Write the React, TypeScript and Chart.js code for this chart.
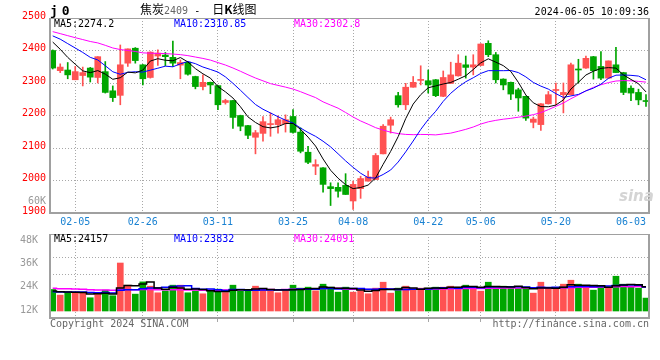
import { useEffect, useRef } from "react";
import { Chart, registerables } from "chart.js";

Chart.register(...registerables);

// ---------- data ----------
const dates = [
  "01-31", "02-01", "02-02", "02-05", "02-06", "02-07", "02-08", "02-19", "02-20", "02-21",
  "02-22", "02-23", "02-26", "02-27", "02-28", "02-29", "03-01", "03-04", "03-05", "03-06",
  "03-07", "03-08", "03-11", "03-12", "03-13", "03-14", "03-15", "03-18", "03-19", "03-20",
  "03-21", "03-22", "03-25", "03-26", "03-27", "03-28", "03-29", "04-01", "04-02", "04-03",
  "04-08", "04-09", "04-10", "04-11", "04-12", "04-15", "04-16", "04-17", "04-18", "04-19",
  "04-22", "04-23", "04-24", "04-25", "04-26", "04-29", "04-30", "05-06", "05-07", "05-08",
  "05-09", "05-10", "05-13", "05-14", "05-15", "05-16", "05-17", "05-20", "05-21", "05-22",
  "05-23", "05-24", "05-27", "05-28", "05-29", "05-30", "05-31", "06-03", "06-04", "06-05",
];
const tickDates = ["02-05", "02-26", "03-11", "03-25", "04-08", "04-22", "05-06", "05-20", "06-03"];

const opens = [
  2400, 2338, 2340, 2310, 2323, 2346, 2317, 2335, 2276, 2262,
  2361, 2407, 2356, 2317, 2383, 2386, 2379, 2355, 2364, 2320,
  2289, 2302, 2292, 2240, 2246, 2200, 2169, 2133, 2145, 2172,
  2172, 2175, 2197, 2149, 2087, 2044, 2039, 1981, 1979, 1985,
  1937, 1975, 1998, 2003, 2082, 2170, 2261, 2233, 2287, 2308,
  2307, 2310, 2259, 2299, 2322, 2356, 2349, 2354, 2422, 2387,
  2312, 2302, 2279, 2259, 2179, 2172, 2236, 2277, 2264, 2264,
  2342, 2346, 2381, 2351, 2315, 2356, 2332, 2284, 2271, 2245,
];
const highs = [
  2402, 2359, 2363, 2351, 2349, 2348, 2381, 2366, 2291, 2417,
  2405, 2409, 2357, 2396, 2402, 2394, 2429, 2371, 2366, 2321,
  2325, 2303, 2293, 2250, 2247, 2201, 2170, 2154, 2197, 2208,
  2199, 2202, 2218, 2162, 2105, 2064, 2040, 1993, 1993, 2021,
  1998, 2013, 2029, 2083, 2172, 2195, 2271, 2299, 2320, 2353,
  2340, 2311, 2337, 2364, 2387, 2383, 2387, 2421, 2430, 2394,
  2313, 2303, 2284, 2260, 2195, 2237, 2274, 2300, 2300, 2361,
  2373, 2383, 2382, 2397, 2368, 2410, 2333, 2291, 2281, 2264,
];
const lows = [
  2343, 2332, 2313, 2310, 2291, 2303, 2300, 2269, 2243, 2233,
  2351, 2361, 2294, 2315, 2354, 2353, 2351, 2313, 2324, 2282,
  2279, 2267, 2218, 2235, 2160, 2153, 2129, 2082, 2121, 2136,
  2146, 2149, 2146, 2085, 2052, 2018, 1964, 1923, 1949, 1957,
  1911, 1945, 1998, 2003, 2082, 2146, 2226, 2218, 2287, 2294,
  2269, 2258, 2258, 2298, 2321, 2315, 2325, 2353, 2381, 2300,
  2279, 2249, 2213, 2185, 2162, 2154, 2235, 2233, 2208, 2263,
  2300, 2345, 2312, 2310, 2314, 2332, 2264, 2246, 2233, 2228,
];
const closes = [
  2346, 2349, 2325, 2335, 2332, 2318, 2381, 2271, 2255, 2356,
  2405, 2369, 2313, 2395, 2392, 2381, 2361, 2363, 2327, 2289,
  2302, 2294, 2233, 2246, 2194, 2167, 2139, 2147, 2181, 2175,
  2187, 2187, 2148, 2090, 2056, 2049, 1988, 1975, 1967, 1957,
  1988, 2006, 2011, 2077, 2167, 2187, 2233, 2287, 2302, 2311,
  2294, 2261, 2317, 2325, 2361, 2348, 2356, 2420, 2387, 2310,
  2294, 2266, 2254, 2192, 2189, 2236, 2264, 2280, 2271, 2356,
  2340, 2376, 2338, 2315, 2368, 2332, 2271, 2269, 2248, 2243,
];
const volumes = [
  23070, 20170, 21530, 21530, 21530, 18810, 21020, 22730, 19830, 36680,
  25280, 20680, 26980, 24770, 21360, 22380, 25280, 25280, 21360, 22380,
  20850, 22380, 23240, 21530, 25280, 22380, 22380, 24770, 23240, 22380,
  21360, 22380, 25280, 23750, 24260, 22380, 25790, 24260, 21700, 24260,
  21700, 22380, 20850, 23750, 26810, 21190, 23750, 24770, 22730, 23750,
  23750, 24260, 24260, 24770, 24260, 25280, 24260, 22210, 26810, 24260,
  24770, 23750, 23750, 23750, 21190, 26810, 23750, 23240, 25790, 27830,
  25790, 23750, 22730, 24770, 23750, 29880, 25790, 24260, 23750, 18640,
];
// sessions before the visible window (only feed the moving averages)
const earlierCloses = [
  2530, 2515, 2520, 2505, 2498, 2510, 2495, 2500, 2502, 2492,
  2460, 2440, 2425, 2410, 2400, 2405, 2415, 2420, 2418, 2430,
  2450, 2462, 2470, 2468, 2470, 2460, 2450, 2440, 2434,
];
const earlierVolumes = [
  25000, 24200, 26100, 23800, 24900, 25300, 23600, 24400, 25800, 24100,
  23900, 24700, 25200, 24000, 23500, 24600, 25100, 24300, 23800, 24200,
  21500, 21800, 21200, 22000, 21500, 22100, 21800, 22300, 21850,
];
const priceTicks = [1900, 2000, 2100, 2200, 2300, 2400, 2500];
const volumeTicks = [12000, 24000, 36000, 48000];
const priceLegend = [
  { text: "MA5:2274.2", color: "#000000" },
  { text: "MA10:2310.85", color: "#0000ff" },
  { text: "MA30:2302.8", color: "#ff00ff" },
];
const volumeLegend = [
  { text: "MA5:24157", color: "#000000" },
  { text: "MA10:23832", color: "#0000ff" },
  { text: "MA30:24091", color: "#ff00ff" },
];

// ---------- helpers ----------
const MONO = "'DejaVu Sans Mono', 'Liberation Mono', monospace";
const RED = "#ff5252";
const GREEN = "#00a600";
const GRID = "#a8a8a8";

function movingAverage(history: number[], series: number[], n: number) {
  const all = history.concat(series);
  return series.map((_, i) => {
    const end = history.length + i;
    let sum = 0;
    for (let k = end - n + 1; k <= end; k++) sum += all[k];
    return sum / n;
  });
}

const isUp = (i: number) => closes[i] >= opens[i];
const candleColor = (ctx: any) => (isUp(ctx.dataIndex) ? RED : GREEN);
const tickIndices = tickDates.map((d) => dates.indexOf(d));

const framePlugin = {
  id: "panelFrame",
  afterDatasetsDraw(chart: any) {
    const { ctx, chartArea: a } = chart;
    ctx.save();
    ctx.strokeStyle = "#a0a0a0";
    ctx.lineWidth = 1;
    ctx.beginPath();
    ctx.moveTo(a.left, a.top + 0.5);
    ctx.lineTo(a.right, a.top + 0.5);
    ctx.stroke();
    ctx.lineWidth = 2;
    ctx.beginPath();
    ctx.moveTo(a.left, a.top);
    ctx.lineTo(a.left, a.bottom);
    ctx.lineTo(a.right, a.bottom);
    ctx.lineTo(a.right, a.top);
    ctx.stroke();
    ctx.restore();
  },
};

function xAxis(withLabels: boolean) {
  return {
    type: "linear",
    min: -0.36,
    max: dates.length - 1 + 0.4,
    offset: false,
    afterBuildTicks: (axis: any) => {
      axis.ticks = tickIndices.map((value) => ({ value }));
    },
    afterFit: (axis: any) => {
      axis.height = withLabels ? 19 : 22;
    },
    grid: {
      offset: false,
      color: (ctx: any) => (ctx.index === tickIndices.length - 1 ? "rgba(0,0,0,0)" : GRID),
      lineWidth: 1,
      drawTicks: !withLabels,
      tickLength: 4,
    },
    border: { display: false, dash: [1, 2] },
    ticks: {
      display: withLabels,
      autoSkip: false,
      maxRotation: 0,
      minRotation: 0,
      padding: 3,
      color: "#1a82d2",
      font: { family: MONO, size: 10 },
      callback: (v: number) => dates[v] ?? "",
    },
  };
}

const lineDs = (label: string, values: number[], color: string, width: number, stepped: any) => ({
  type: "line",
  label,
  data: values.map((y, x) => ({ x, y })),
  borderColor: color,
  borderWidth: width,
  pointRadius: 0,
  tension: 0,
  stepped,
  order: 0,
});

function buildPriceConfig(): any {
  return {
    type: "bar",
    data: {
      datasets: [
        lineDs("MA5", movingAverage(earlierCloses, closes, 5), "#000000", 1, false),
        lineDs("MA10", movingAverage(earlierCloses, closes, 10), "#0000ff", 1, false),
        lineDs("MA30", movingAverage(earlierCloses, closes, 30), "#ff00ff", 1, false),
        {
          type: "bar",
          label: "range",
          data: lows.map((l, x) => ({ x, y: [l, highs[x]] })),
          backgroundColor: candleColor,
          barThickness: 1,
          grouped: false,
          order: 2,
        },
        {
          type: "bar",
          label: "body",
          data: opens.map((o, x) => ({ x, y: [o, closes[x]] })),
          backgroundColor: candleColor,
          barThickness: 6,
          minBarLength: 1,
          grouped: false,
          order: 1,
        },
      ],
    },
    options: {
      responsive: false,
      animation: false,
      devicePixelRatio: 1,
      events: [],
      layout: { padding: { top: 18, right: 11, left: 0, bottom: 0 } },
      plugins: { legend: { display: false }, tooltip: { enabled: false } },
      scales: {
        x: xAxis(true),
        y: {
          type: "linear",
          min: priceTicks[0],
          max: priceTicks[priceTicks.length - 1],
          afterBuildTicks: (axis: any) => {
            axis.ticks = priceTicks.map((value) => ({ value }));
          },
          afterFit: (axis: any) => {
            axis.width = 50;
          },
          ticks: {
            color: "#ff0000",
            padding: 4,
            labelOffset: -2,
            font: { family: MONO, size: 10 },
            callback: (v: number) => String(v),
          },
          grid: { color: GRID, drawTicks: false },
          border: { display: false, dash: [1, 2] },
        },
      },
    },
    plugins: [framePlugin],
  };
}

function buildVolumeConfig(): any {
  return {
    type: "bar",
    data: {
      datasets: [
        lineDs("MA5", movingAverage(earlierVolumes, volumes, 5), "#000000", 1.5, "middle"),
        lineDs("MA10", movingAverage(earlierVolumes, volumes, 10), "#0000ff", 1.5, "middle"),
        lineDs("MA30", movingAverage(earlierVolumes, volumes, 30), "#ff00ff", 1.5, "middle"),
        {
          type: "bar",
          label: "volume",
          data: volumes.map((y, x) => ({ x, y })),
          base: volumeTicks[0],
          backgroundColor: candleColor,
          barThickness: 6,
          grouped: false,
          order: 1,
        },
      ],
    },
    options: {
      responsive: false,
      animation: false,
      devicePixelRatio: 1,
      events: [],
      layout: { padding: { top: 12, right: 11, left: 0, bottom: 0 } },
      plugins: { legend: { display: false }, tooltip: { enabled: false } },
      scales: {
        x: xAxis(false),
        y: {
          type: "linear",
          position: "left",
          min: 8400,
          max: 51600,
          afterBuildTicks: (axis: any) => {
            axis.ticks = volumeTicks.map((value) => ({ value }));
          },
          afterFit: (axis: any) => {
            axis.width = 50;
          },
          ticks: {
            color: "#999999",
            padding: 4,
            labelOffset: -1,
            font: { family: MONO, size: 10 },
            callback: (v: number) => `${v / 1000}K`,
          },
          grid: { display: false },
          border: { display: false },
        },
        yg: {
          type: "linear",
          position: "left",
          min: 0,
          max: 1,
          afterBuildTicks: (axis: any) => {
            axis.ticks = [{ value: 0.512 }, { value: 0.726 }];
          },
          afterFit: (axis: any) => {
            axis.width = 0;
          },
          ticks: { display: false },
          grid: { color: GRID, drawTicks: false },
          border: { display: false, dash: [1, 2] },
        },
      },
    },
    plugins: [framePlugin],
  };
}

const txt = (extra: any) => ({
  position: "absolute" as const,
  font: `10px/12px ${MONO}`,
  whiteSpace: "pre" as const,
  ...extra,
});

export default function App() {
  const priceRef = useRef<HTMLCanvasElement>(null);
  const volRef = useRef<HTMLCanvasElement>(null);

  useEffect(() => {
    const c1 = new Chart(priceRef.current as HTMLCanvasElement, buildPriceConfig());
    const c2 = new Chart(volRef.current as HTMLCanvasElement, buildVolumeConfig());
    return () => {
      c1.destroy();
      c2.destroy();
    };
  }, []);

  return (
    <div
      style={{
        position: "fixed",
        left: 0,
        top: 0,
        width: 660,
        height: 360,
        background: "#ffffff",
        overflow: "hidden",
      }}
    >
      <canvas
        ref={priceRef}
        width={660}
        height={232}
        style={{ position: "absolute", left: 0, top: 0, width: 660, height: 232 }}
      />
      <canvas
        ref={volRef}
        width={660}
        height={118}
        style={{ position: "absolute", left: 0, top: 222, width: 660, height: 118 }}
      />

      <div style={txt({ left: 50, top: 4, font: `bold 13px/13px ${MONO}`, letterSpacing: "3.8px", color: "#000" })}>
        j0
      </div>
      <div style={txt({ left: 140, top: 3, font: `12px/12px 'Noto Sans CJK SC', sans-serif`, color: "#000" })}>
        焦炭<span style={{ font: `10px/12px ${MONO}`, color: "#666" }}>2409</span>
        <span style={{ font: `10px/12px ${MONO}` }}> - </span>
        <span style={{ marginLeft: 6 }}>
          日<b>K</b>线图
        </span>
      </div>
      <div style={txt({ right: 11, top: 6, color: "#000" })}>2024-06-05 10:09:36</div>

      {priceLegend.map((l, k) => (
        <div key={l.text} style={txt({ left: 54 + k * 120, top: 18, color: l.color })}>
          {l.text}
        </div>
      ))}
      {volumeLegend.map((l, k) => (
        <div key={l.text} style={txt({ left: 54 + k * 120, top: 233, color: l.color })}>
          {l.text}
        </div>
      ))}

      <div style={txt({ right: 614, top: 195, color: "#999999" })}>60K</div>

      <div
        style={txt({
          left: 619,
          top: 189,
          font: `italic bold 15px/15px 'DejaVu Sans', sans-serif`,
          color: "#d4d4d4",
        })}
      >
        sina
      </div>

      <div style={txt({ left: 50, top: 318, color: "#666666" })}>Copyright 2024 SINA.COM</div>
      <div style={txt({ right: 11, top: 318, color: "#666666" })}>http://finance.sina.com.cn</div>
    </div>
  );
}
